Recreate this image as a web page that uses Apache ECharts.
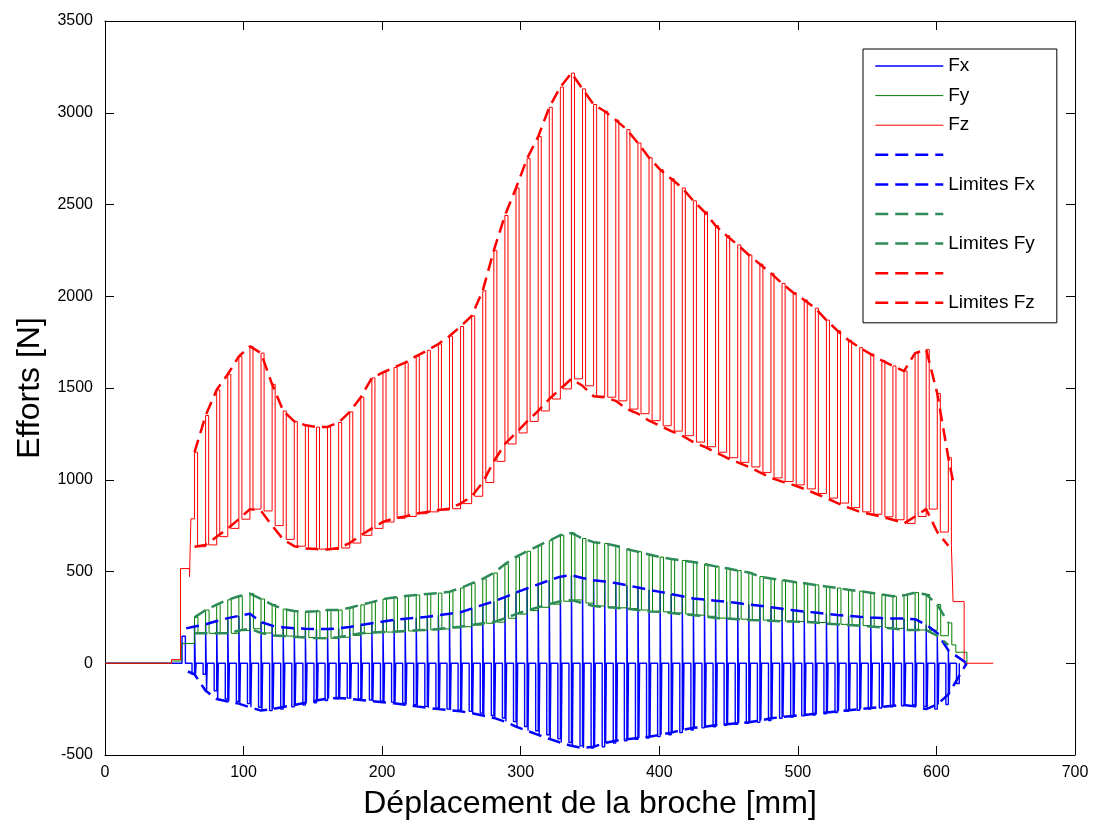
<!DOCTYPE html>
<html>
<head>
<meta charset="utf-8">
<script src="https://cdn.jsdelivr.net/npm/echarts@6/dist/echarts.min.js"></script>
<style>
  html, body { margin: 0; padding: 0; background: #fff; }
  #chartMain { width: 1093px; height: 825px; }
</style>
</head>
<body>
<div id="chartMain"></div>
<script>
// axes
const xTicks = [0, 100, 200, 300, 400, 500, 600, 700]
const yTicks = [-500, 0, 500, 1000, 1500, 2000, 2500, 3000, 3500]

// position of each tooth pass [mm]
const toothX = [
    64.6, 72.6, 80.6, 88.6, 96.6, 104.6, 112.6, 120.6, 128.6, 136.6,
    144.6, 152.6, 160.6, 168.6, 176.6, 184.6, 192.6, 200.6, 208.6, 216.6,
    224.6, 232.6, 240.6, 248.6, 256.6, 264.6, 272.6, 280.6, 288.6, 296.6,
    304.6, 312.6, 320.6, 328.6, 336.6, 344.6, 352.6, 360.6, 368.6, 376.6,
    384.6, 392.6, 400.6, 408.6, 416.6, 424.6, 432.6, 440.6, 448.6, 456.6,
    464.6, 472.6, 480.6, 488.6, 496.6, 504.6, 512.6, 520.6, 528.6, 536.6,
    544.6, 552.6, 560.6, 568.6, 576.6, 584.6, 592.6, 600.6, 608.6,
]

// Fz peaks / valleys [N]
const fzPeak = [
    1150, 1350, 1490, 1575, 1672, 1727, 1690, 1520, 1375, 1318,
    1297, 1287, 1288, 1312, 1370, 1450, 1555, 1585, 1612, 1638,
    1674, 1705, 1740, 1783, 1835, 1893, 2030, 2250, 2440, 2590,
    2750, 2870, 3030, 3140, 3216, 3130, 3045, 3008, 2960, 2908,
    2835, 2755, 2690, 2640, 2590, 2520, 2460, 2385, 2330, 2280,
    2225, 2175, 2125, 2070, 2020, 1980, 1935, 1870, 1812, 1760,
    1720, 1685, 1650, 1620, 1592, 1690, 1710, 1470, 1120,
]
const fzValley = [
    635, 645, 690, 735, 785, 840, 830, 750, 675, 638,
    626, 622, 620, 628, 655, 697, 735, 770, 790, 800,
    815, 825, 835, 842, 870, 910, 985, 1100, 1195, 1255,
    1318, 1375, 1440, 1495, 1550, 1512, 1455, 1450, 1430, 1385,
    1360, 1322, 1294, 1265, 1240, 1205, 1180, 1150, 1120, 1095,
    1070, 1040, 1010, 990, 972, 950, 925, 900, 873, 848,
    825, 812, 798, 782, 762, 800, 840, 715, 640,
]

// Fy peaks / valleys [N]
const fyPeak = [
    250, 290, 320, 346, 365, 380, 350, 320, 295, 285,
    281, 284, 290, 290, 302, 318, 333, 350, 358, 366,
    372, 377, 382, 390, 410, 435, 460, 492, 540, 580,
    610, 640, 668, 698, 710, 680, 660, 653, 640, 622,
    608, 593, 579, 568, 560, 552, 540, 528, 518, 505,
    495, 472, 462, 453, 444, 436, 427, 418, 410, 400,
    393, 384, 375, 365, 370, 385, 375, 320, 220,
]
const fyValley = [
    163, 163, 163, 163, 178, 188, 165, 152, 148, 144,
    140, 137, 136, 142, 152, 163, 167, 170, 172, 176,
    180, 182, 187, 193, 199, 208, 218, 224, 245, 268,
    287, 305, 322, 338, 345, 328, 312, 306, 302, 298,
    290, 282, 280, 274, 268, 262, 256, 246, 244, 240,
    236, 235, 232, 229, 227, 226, 222, 216, 212, 208,
    205, 200, 195, 190, 181, 181, 180, 150, 100,
]

// Fx peaks / valleys [N]
const fxPeak = [
    200, 212, 230, 246, 258, 270, 225, 205, 196, 190,
    188, 187, 186, 190, 198, 208, 218, 227, 236, 243,
    248, 253, 262, 270, 278, 298, 318, 337, 360, 385,
    408, 430, 452, 472, 480, 465, 452, 445, 437, 425,
    413, 400, 389, 377, 365, 353, 347, 341, 335, 328,
    320, 313, 305, 297, 289, 282, 276, 270, 263, 258,
    253, 249, 246, 244, 244, 240, 210, 165, 70,
]
const fxValley = [
    -60, -150, -195, -208, -220, -240, -258, -250, -238, -228,
    -215, -203, -192, -190, -194, -200, -207, -212, -218, -226,
    -235, -243, -250, -256, -262, -272, -285, -298, -318, -345,
    -368, -390, -412, -432, -450, -462, -455, -435, -422, -414,
    -408, -400, -390, -378, -364, -352, -346, -338, -333, -327,
    -322, -312, -300, -293, -287, -282, -275, -268, -262, -256,
    -250, -244, -238, -232, -227, -235, -250, -225, -170,
]

// run-in / run-out of each signal, [mm, N]
const fzLead = [[0, 0], [48, 20], [54.5, 516], [61, 472], [62, 787]]
const fzTail = [[612, 336], [620, 0], [641, 0]]
const fyLead = [[0, 0], [48, 12], [55, 108]]
const fyTail = [[614, 60], [622, 0]]
const fxLead = [[0, 0], [55.6, 147], [58, 0]]
const fxTail = [[614.5, -110], [616.5, 0]]
const fzUpperEnd = [[612, 990]]
const fxUpperEnds = [[58.6, 190], [621.8, 0]]
const fxLowerEnds = [[59.8, -45], [621.8, 0]]

const fontFamily = 'Liberation Sans, Arial, sans-serif'

// step signal: rise to the peak at each tooth, fall back to the valley
function pulseLine(lead, peaks, valleys, tail, w) {
    const pts = lead.slice()
    toothX.forEach((x, i) => {
        pts.push([x, peaks[i]], [x + w, valleys[i]])
    })
    return pts.concat(tail)
}
// Fx: full swing at the tooth, rest near zero, drop to the valley before the next tooth
function pulseLineFx() {
    const pts = fxLead.slice()
    toothX.forEach((x, i) => {
        const prev = i > 0 ? fxValley[i - 1] : fxValley[0]
        pts.push([x - 1.8, prev], [x, fxPeak[i]], [x + 0.7, fxValley[i]], [x + 1.2, 0])
    })
    return pts.concat(fxTail)
}
function limitLine(values, head, tail) {
    return (head || []).concat(toothX.map((x, i) => [x, values[i]]), tail || [])
}

function signal(name, color, data, width) {
    return {
        name: name,
        type: 'line',
        step: 'end',
        symbol: 'none',
        data: data,
        itemStyle: { color: color },
        lineStyle: { color: color, width: width || 1 },
    }
}
function limit(name, color, data) {
    return {
        name: name,
        type: 'line',
        symbol: 'none',
        data: data,
        itemStyle: { color: color },
        lineStyle: { color: color, width: 2.5, type: [13, 7] },
    }
}

const chart = echarts.init(document.getElementById('chartMain'))
const axisCommon = {
    axisLine: { onZero: false, lineStyle: { color: '#000', width: 1 } },
    axisTick: { inside: true, length: 9, lineStyle: { color: '#000' } },
    splitLine: { show: false },
}
const labelStyle = {
    fontFamily: fontFamily, fontSize: 16, color: '#000',
    formatter: (v) => String(v),
}
const option = {
    animation: false,
    backgroundColor: '#fff',
    grid: { left: 105, right: 18, top: 21, bottom: 68 },
    xAxis: [
        Object.assign({
            type: 'value', min: xTicks[0], max: xTicks[xTicks.length - 1], interval: 100,
            name: 'Déplacement de la broche [mm]', nameLocation: 'middle', nameGap: 33,
            nameTextStyle: { fontFamily: fontFamily, fontSize: 32, color: '#000' },
            axisLabel: Object.assign({ margin: 10 }, labelStyle),
        }, axisCommon),
        Object.assign({
            type: 'value', position: 'top', min: xTicks[0], max: xTicks[xTicks.length - 1], interval: 100,
            axisLabel: { show: false },
        }, axisCommon),
    ],
    yAxis: [
        Object.assign({
            type: 'value', min: yTicks[0], max: yTicks[yTicks.length - 1], interval: 500,
            name: 'Efforts [N]', nameLocation: 'middle', nameGap: 57,
            nameTextStyle: { fontFamily: fontFamily, fontSize: 32, color: '#000' },
            axisLabel: Object.assign({ margin: 12 }, labelStyle),
        }, axisCommon),
        Object.assign({
            type: 'value', position: 'right', min: yTicks[0], max: yTicks[yTicks.length - 1], interval: 500,
            axisLabel: { show: false },
        }, axisCommon),
    ],
    legend: {
        orient: 'vertical',
        left: 863,
        top: 49,
        padding: [7, 22, 10, 11],
        itemWidth: 68,
        itemHeight: 14,
        itemGap: 9.6,
        itemStyle: { opacity: 0 },
        lineStyle: { width: 'inherit' },
        backgroundColor: '#fff',
        borderColor: '#000',
        borderWidth: 1,
        borderRadius: 0,
        textStyle: { fontFamily: fontFamily, fontSize: 19, color: '#000', lineHeight: 20 },
        data: ['Fx', 'Fy', 'Fz', ' ', 'Limites Fx', '  ', 'Limites Fy', '   ', 'Limites Fz'],
    },
    series: [
        signal('Fx', '#0000ff', pulseLineFx(), 1.4),
        signal('Fy', '#008000', pulseLine(fyLead, fyPeak, fyValley, fyTail, 2.5)),
        signal('Fz', '#ff0000', pulseLine(fzLead, fzPeak, fzValley, fzTail, 2.2)),
        limit(' ', '#0000ff', limitLine(fxValley, fxLowerEnds.slice(0, 1), fxLowerEnds.slice(1))),
        limit('Limites Fx', '#0000ff', limitLine(fxPeak, fxUpperEnds.slice(0, 1), fxUpperEnds.slice(1))),
        limit('  ', '#2e8b57', limitLine(fyValley)),
        limit('Limites Fy', '#2e8b57', limitLine(fyPeak)),
        limit('   ', '#ff0000', limitLine(fzValley)),
        limit('Limites Fz', '#ff0000', limitLine(fzPeak, [], fzUpperEnd)),
    ],
}
option && chart.setOption(option)
</script>
</body>
</html>
